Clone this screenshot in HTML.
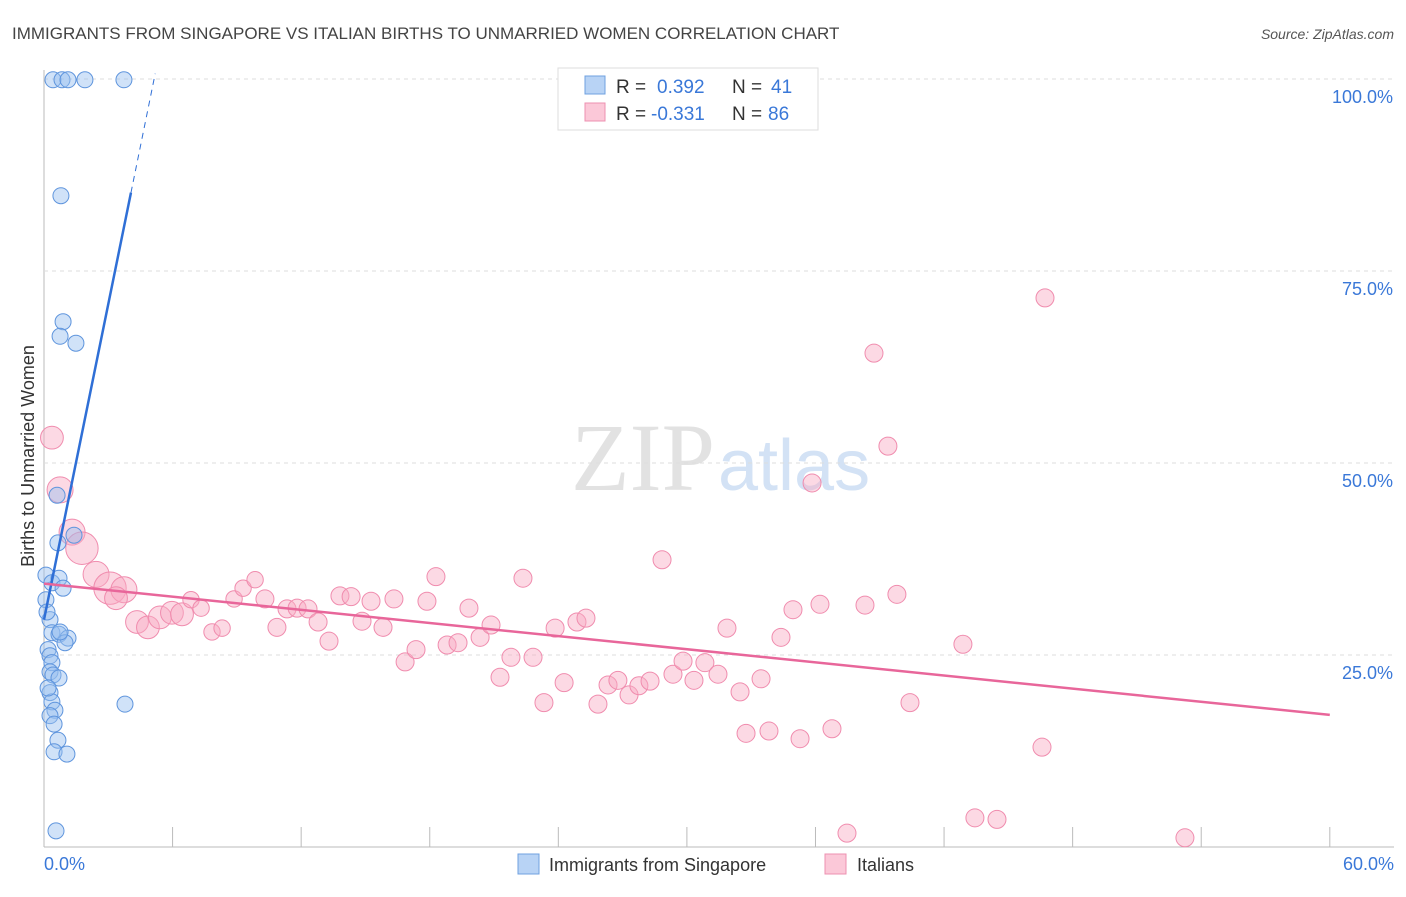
<!DOCTYPE html>
<html><head><meta charset="utf-8"><style>
body{margin:0;background:#fff;font-family:"Liberation Sans",sans-serif}
</style></head><body>
<svg id="c" width="1406" height="892" xmlns="http://www.w3.org/2000/svg">
<text x="12" y="39" font-size="17" fill="#444">IMMIGRANTS FROM SINGAPORE VS ITALIAN BIRTHS TO UNMARRIED WOMEN CORRELATION CHART</text>
<text x="1394" y="39" font-size="14" fill="#555" font-style="italic" text-anchor="end">Source: ZipAtlas.com</text>
<text x="715" y="490" font-size="96" fill="#e2e2e2" font-family="Liberation Serif" text-anchor="end">ZIP</text>
<text x="718" y="490" font-size="72" fill="#d3e2f5">atlas</text>
<text transform="translate(34,456) rotate(-90)" font-size="18" fill="#333" text-anchor="middle">Births to Unmarried Women</text>
<g id="grid"></g><g id="pts"></g><g id="lines"></g>
<g font-size="19">
<rect x="558" y="68" width="260" height="62" fill="#fff" stroke="#ddd"/>
<rect x="585" y="76" width="20" height="18" fill="#b8d3f5" stroke="#6fa0e0"/>
<rect x="585" y="103" width="20" height="18" fill="#fbc8d8" stroke="#ee90b0"/>
<text x="616" y="93" fill="#333">R =</text><text x="657" y="93" fill="#3a78d8">0.392</text>
<text x="732" y="93" fill="#333">N =</text><text x="771" y="93" fill="#3a78d8">41</text>
<text x="616" y="120" fill="#333">R =</text><text x="651" y="120" fill="#3a78d8">-0.331</text>
<text x="732" y="120" fill="#333">N =</text><text x="768" y="120" fill="#3a78d8">86</text>
</g>
<g>
<rect x="518" y="854" width="21" height="20" fill="#b8d3f5" stroke="#6fa0e0"/>
<text x="549" y="871" font-size="18" fill="#333">Immigrants from Singapore</text>
<rect x="825" y="854" width="21" height="20" fill="#fbc8d8" stroke="#ee90b0"/>
<text x="857" y="871" font-size="18" fill="#333">Italians</text>
</g>
</svg>
<script>
const xTicks=[0,6,12,18,24,30,36,42,48,54,60];
const yTicks=[25,50,75,100];
const blueX=[0.42,0.84,1.12,1.91,3.73,0.79,0.89,0.75,1.49,0.61,1.40,0.65,0.09,0.37,0.70,0.89,0.28,0.37,0.70,1.12,0.98,0.19,0.28,0.37,0.28,0.42,0.70,0.28,0.37,0.51,0.28,0.47,0.65,0.47,1.07,3.78,0.56,0.09,0.14,0.75,0.19];
const blueY=[99.9,99.9,99.9,99.9,99.9,84.8,68.4,66.5,65.6,45.8,40.6,39.6,35.4,34.4,35.0,33.7,29.6,27.9,27.7,27.2,26.6,25.7,24.9,24.0,22.8,22.4,22.0,20.1,18.9,17.8,17.1,16.0,13.9,12.4,12.1,18.6,2.1,32.2,30.6,28.0,20.7];
const pinkX=[0.37,0.75,1.31,1.77,2.43,3.08,3.73,3.36,4.34,4.85,5.41,5.97,6.44,6.86,7.33,7.84,8.31,8.87,9.29,9.85,10.31,10.87,11.34,11.81,12.32,12.79,13.30,13.81,14.33,14.84,15.26,15.82,16.33,16.85,17.36,17.87,18.29,18.81,19.32,19.83,20.35,20.86,21.28,21.79,22.35,22.82,23.33,23.85,24.27,24.87,25.29,25.85,26.32,26.78,27.30,27.76,28.28,28.84,29.35,29.82,30.33,30.84,31.45,31.87,32.48,32.76,33.46,33.83,34.39,34.95,35.28,35.84,36.21,36.77,37.47,38.31,38.73,39.38,39.80,40.41,42.88,43.44,44.47,46.57,46.71,53.24];
const pinkY=[53.3,46.5,41.0,38.9,35.5,33.7,33.5,32.4,29.3,28.6,29.9,30.5,30.3,32.2,31.1,28.0,28.5,32.3,33.7,34.8,32.3,28.6,31.0,31.1,31.0,29.3,26.8,32.7,32.6,29.4,32.0,28.6,32.3,24.1,25.7,32.0,35.2,26.3,26.6,31.1,27.3,28.9,22.1,24.7,35.0,24.7,18.8,28.5,21.4,29.3,29.8,18.6,21.1,21.7,19.8,21.0,21.6,37.4,22.5,24.2,21.7,24.0,22.5,28.5,20.2,14.8,21.9,15.1,27.3,30.9,14.1,47.4,31.6,15.4,1.8,31.5,64.3,52.2,32.9,18.8,26.4,3.8,3.6,13.0,71.5,1.2];
const pinkW=[4,5,5,7,5,7,5,4,4,4,4,4,4,2,2,2,2,2,2,2];
const blueTrend=[29.6,13.7];
const pinkTrend=[34.3,-0.285];
const X=v=>44+v*21.43, Y=v=>847-v*7.68;
const NS="http://www.w3.org/2000/svg";
function mk(p,t,a){const e=document.createElementNS(NS,t);for(const k in a)e.setAttribute(k,a[k]);document.getElementById(p).appendChild(e);return e;}
mk('grid','line',{x1:44,y1:847,x2:1394,y2:847,stroke:'#bbb'});
mk('grid','line',{x1:44,y1:70,x2:44,y2:847,stroke:'#bbb'});
yTicks.forEach(t=>{
 const l=mk('grid','line',{x1:44,y1:Y(t),x2:1394,y2:Y(t),stroke:'#ddd','stroke-dasharray':'4,4'});
 
 
 const tx=mk('grid','text',{x:1393,y:Y(t)+24,'font-size':18,fill:'#3a78d8','text-anchor':'end'});tx.textContent=t.toFixed(1)+'%';
 
 
});
xTicks.forEach(t=>{
 const l=mk('grid','line',{x1:X(t),y1:827,x2:X(t),y2:847,stroke:'#bbb'});
 
 
});
[[0,'start',44],[60,'end',1394]].forEach(([t,a,x])=>{const tx=mk('grid','text',{x:x,y:870,'font-size':18,fill:'#3a78d8','text-anchor':a});tx.textContent=t.toFixed(1)+'%';
 
 });
pinkX.forEach((v,i)=>{const r=pinkW[i]!==undefined?5+pinkW[i]*1.6:9;
 const c=mk('pts','circle',{cx:X(v),cy:Y(pinkY[i]),r:r,fill:'rgba(248,170,195,0.45)',stroke:'#f08cae','stroke-width':1});
 
 });
blueX.forEach((v,i)=>{const c=mk('pts','circle',{cx:X(v),cy:Y(blueY[i]),r:8,fill:'rgba(150,190,240,0.45)',stroke:'#5f95dd','stroke-width':1});
 
 });
const bx1=(85.2-blueTrend[0])/blueTrend[1], bx2=(100-blueTrend[0])/blueTrend[1];
let l=mk('lines','line',{x1:X(0),y1:Y(blueTrend[0]),x2:X(bx1),y2:Y(85.2),stroke:'#2f6fd6','stroke-width':2.5});


l=mk('lines','line',{x1:X(bx1),y1:Y(85.2),x2:X(bx2+0.05),y2:Y(100.7),stroke:'#2f6fd6','stroke-width':1,'stroke-dasharray':'6,5'});


l=mk('lines','line',{x1:X(0),y1:Y(pinkTrend[0]),x2:X(60),y2:Y(pinkTrend[0]+pinkTrend[1]*60),stroke:'#e8669a','stroke-width':2.5});


</script>
</body></html>
